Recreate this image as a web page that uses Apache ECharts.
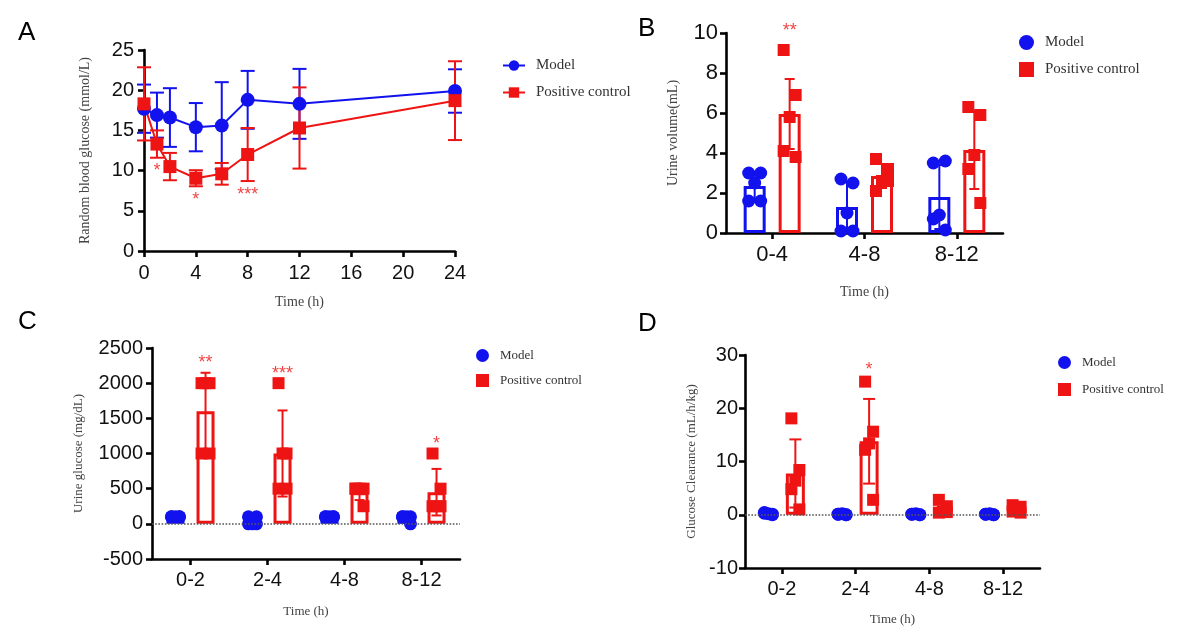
<!DOCTYPE html>
<html>
<head>
<meta charset="UTF-8">
<title>Glucose figure</title>
<style>
html, body { margin: 0; padding: 0; background: #fff; }
#main { width: 1183px; height: 641px; }
</style>
</head>
<body>
<div id="main"></div>
<script src="https://cdn.jsdelivr.net/npm/echarts@6.0.0/dist/echarts.min.js"></script>
<script>
// ---- A: random blood glucose over time (mean, SD)
var timesA = [0, 1, 2, 4, 6, 8, 12, 24];
var modelMeanA = [17.7, 16.9, 16.6, 15.4, 15.6, 18.8, 18.3, 19.9];
var modelSdA = [3.0, 2.8, 3.65, 3.0, 5.4, 3.6, 4.35, 2.7];
var posMeanA = [18.3, 13.3, 10.5, 9.05, 9.6, 12.0, 15.3, 18.7];
var posSdA = [4.55, 1.7, 1.7, 1.0, 1.35, 3.3, 5.05, 4.9];
var sigA = ['', '*', '', '*', '', '***', '', ''];

// ---- B: urine volume (mL)
var catsB = ['0-4', '4-8', '8-12'];
var modelPtsB = [[3.0, 3.0, 2.5, 1.6, 1.6], [2.7, 2.5, 1.0, 0.1, 0.1], [3.5, 3.6, 0.9, 0.7, 0.15]];
var modelMeanB = [2.35, 1.3, 1.8];
var modelSdB = [0.7, 1.25, 1.6];
var posPtsB = [[9.15, 6.9, 5.8, 4.1, 3.8], [3.7, 3.2, 2.6, 2.1, 2.6], [6.3, 5.9, 3.9, 3.2, 1.5]];
var posMeanB = [5.95, 2.85, 4.15];
var posSdB = [1.75, 0.6, 1.95];
var sigB = ['**', '', ''];

// ---- C: urine glucose (mg/dL)
var catsCD = ['0-2', '2-4', '4-8', '8-12'];
var modelPtsC = [[100, 100, 100, 100, 100], [100, 100, 0, 0, 0], [100, 100, 100, 100, 100], [100, 100, 100, 100, 0]];
var modelMeanC = [100, 40, 100, 80];
var modelSdC = [0, 55, 0, 45];
var posPtsC = [[2000, 2000, 2000, 1000, 1000], [2000, 1000, 1000, 500, 500], [500, 500, 500, 500, 250], [1000, 500, 250, 250, 250]];
var posMeanC = [1600, 1000, 450, 450];
var posSdC = [548, 612, 112, 331];
var sigC = ['**', '***', '', '*'];

// ---- D: glucose clearance (mL/h/kg)
var modelPtsD = [[0.3, 0.1, 0.2, 0.4, 0.0], [0.1, 0.0, 0.2, 0.1, 0.0], [0.1, 0.0, 0.2, 0.1, 0.0], [0.1, 0.0, 0.2, 0.1, 0.0]];
var modelMeanD = [0.2, 0.1, 0.1, 0.1];
var modelSdD = [0.15, 0.1, 0.1, 0.1];
var posPtsD = [[18.1, 8.4, 6.4, 4.8, 1.0], [25.0, 15.6, 13.4, 12.2, 2.8], [2.8, 1.6, 0.6, 0.4, 0.5], [1.8, 1.5, 1.0, 0.6, 0.4]];
var posMeanD = [7.75, 13.8, 1.2, 1.05];
var posSdD = [6.4, 7.95, 1.0, 0.6];
var sigD = ['', '*', '', ''];

var BLUE = '#1212ee', RED = '#ee1414';
var SANS = 'Liberation Sans', SERIF = 'Liberation Serif';

var chart = echarts.init(document.getElementById('main'));

// error bar drawn as a custom series: data = [x, mean, sd]
function errBars(ax, means, sds, xs, shift, capW, color, z) {
    var data = means.map(function (m, i) { return [xs ? xs[i] : i, m, sds[i]]; });
    return {
        type: 'custom', xAxisIndex: ax, yAxisIndex: ax, z: z, silent: true,
        encode: {x: 0, y: 1},
        data: data,
        renderItem: function (params, api) {
            var hi = api.coord([api.value(0), api.value(1) + api.value(2)]);
            var lo = api.coord([api.value(0), api.value(1) - api.value(2)]);
            var x = hi[0] + shift;
            var st = {stroke: color, lineWidth: 2, fill: null};
            return {
                type: 'group', children: [
                    {type: 'line', shape: {x1: x, y1: hi[1], x2: x, y2: lo[1]}, style: st},
                    {type: 'line', shape: {x1: x - capW / 2, y1: hi[1], x2: x + capW / 2, y2: hi[1]}, style: st},
                    {type: 'line', shape: {x1: x - capW / 2, y1: lo[1], x2: x + capW / 2, y2: lo[1]}, style: st}
                ]
            };
        }
    };
}

function bars(ax, name, means, color, w, gap, zeroLine) {
    var s = {
        type: 'bar', name: name, xAxisIndex: ax, yAxisIndex: ax, data: means,
        barWidth: w, barGap: gap, z: 2, silent: true,
        itemStyle: {color: 'rgba(255,255,255,0)', borderColor: color, borderWidth: 3}
    };
    if (zeroLine) {
        s.markLine = {
            silent: true, symbol: ['none', 'none'], label: {show: false},
            lineStyle: {type: 'dotted', color: '#555', width: 1.6},
            data: [{yAxis: 0}]
        };
    }
    return s;
}

var jitB = [-6, 6, 0, -6, 6];
var jitCD = [-4, 4, 0, -4, 4];

function points(ax, name, groups, shift, jit, symbol, size, color) {
    var data = [];
    groups.forEach(function (vals, i) {
        vals.forEach(function (v, k) {
            data.push({value: [i, v], symbolOffset: [shift + jit[k], 0]});
        });
    });
    return {
        type: 'scatter', name: name, xAxisIndex: ax, yAxisIndex: ax, data: data,
        symbol: symbol, symbolSize: size, itemStyle: {color: color, opacity: 1}, z: 4, silent: true
    };
}

// significance marks anchored on the red group
function sig(ax, labels, xs, anchors, dx, pos, dist) {
    return {
        type: 'scatter', xAxisIndex: ax, yAxisIndex: ax, symbolSize: 1, silent: true, z: 5,
        itemStyle: {color: 'rgba(0,0,0,0)'},
        data: labels.map(function (t, i) {
            return {value: [xs ? xs[i] : i, anchors[i]], label: {show: t !== '', formatter: t}};
        }),
        label: {position: pos, distance: dist, offset: [dx, 0], color: RED, fontSize: 18, fontFamily: SANS}
    };
}

function topOf(means, sds, pts) {
    return means.map(function (m, i) { return Math.max(m + sds[i], Math.max.apply(null, pts[i])); });
}

// bar layout per panel: width and gap (share of width) -> centre shift
var wB = 22, gB = 0.59, shB = (wB + wB * gB) / 2;
var wC = 18, gC = 0.67, shC = (wC + wC * gC) / 2;
var wD = 19, gD = 0.42, shD = (wD + wD * gD) / 2;

var axisLineSt = {show: true, onZero: false, lineStyle: {color: '#000', width: 2.6}};
var tickSt = {show: true, length: 6, lineStyle: {color: '#000', width: 2.6}};
var nameSt = function (size) { return {fontFamily: SERIF, fontSize: size, color: '#444'}; };
var labelSt = function (size, margin) {
    return {fontFamily: SANS, fontSize: size, color: '#111', margin: margin,
        formatter: function (v) { return String(v); }};
};

function catAxis(grid, cats, size, margin, gap, nsize) {
    return {
        type: 'category', gridIndex: grid, data: cats,
        axisLine: axisLineSt, axisTick: Object.assign({alignWithLabel: true}, tickSt),
        axisLabel: labelSt(size, margin), splitLine: {show: false},
        name: 'Time (h)', nameLocation: 'middle', nameGap: gap, nameTextStyle: nameSt(nsize)
    };
}

function valAxis(grid, min, max, step, name, size, margin, gap, nsize) {
    return {
        type: 'value', gridIndex: grid, min: min, max: max, interval: step,
        axisLine: axisLineSt, axisTick: tickSt, axisLabel: labelSt(size, margin),
        splitLine: {show: false},
        name: name, nameLocation: 'middle', nameGap: gap, nameTextStyle: nameSt(nsize)
    };
}

function legend(left, top, size, icoW, icoH, gap, icons) {
    var names = ['Model', 'Positive control'];
    return {
        left: left, top: top, orient: 'vertical', selectedMode: false,
        itemWidth: icoW, itemHeight: icoH, itemGap: gap,
        data: names.map(function (n, i) { return icons ? {name: n, icon: icons[i]} : {name: n}; }),
        textStyle: {fontFamily: SERIF, fontSize: size, color: '#333', padding: [0, 0, 0, 6]}
    };
}

var letter = function (t, left, top) {
    return {text: t, left: left, top: top, textStyle: {fontFamily: SANS, fontSize: 26, fontWeight: 'normal', color: '#000'}};
};

var option = {
    animation: false,
    backgroundColor: '#fff',
    title: [letter('A', 13, 15), letter('B', 633, 11), letter('C', 13, 304), letter('D', 633, 306)],
    legend: [
        legend(497, 53, 15, 22, 13, 12),
        legend(1014, 30, 15, 15, 15, 12, ['circle', 'rect']),
        legend(471, 344, 13, 13, 13, 12, ['circle', 'rect']),
        legend(1053, 351, 13, 13, 13, 14, ['circle', 'rect'])
    ],
    grid: [
        {left: 144, top: 50, width: 311, height: 201},
        {left: 726, top: 33, width: 277, height: 200},
        {left: 152, top: 348, width: 308, height: 211},
        {left: 745, top: 355, width: 295, height: 213}
    ],
    xAxis: [
        {
            type: 'value', gridIndex: 0, min: 0, max: 24, interval: 4,
            axisLine: axisLineSt, axisTick: tickSt, axisLabel: labelSt(20, 12), splitLine: {show: false},
            name: 'Time (h)', nameLocation: 'middle', nameGap: 44, nameTextStyle: nameSt(14)
        },
        catAxis(1, catsB, 22, 11, 52, 14),
        catAxis(2, catsCD, 20, 11, 46, 13),
        catAxis(3, catsCD, 20, 11, 45, 13)
    ],
    yAxis: [
        valAxis(0, 0, 25, 5, 'Random blood glucose (mmol/L)', 20, 10, 52, 14),
        valAxis(1, 0, 10, 2, 'Urine volume(mL)', 22, 8, 46, 14),
        valAxis(2, -500, 2500, 500, 'Urine glucose (mg/dL)', 20, 9, 67, 13),
        valAxis(3, -10, 30, 10, 'Glucose Clearance (mL/h/kg)', 20, 7, 47, 13)
    ],
    series: [
        // A
        {
            type: 'line', name: 'Model', xAxisIndex: 0, yAxisIndex: 0, z: 3,
            data: timesA.map(function (t, i) { return [t, modelMeanA[i]]; }),
            symbol: 'circle', symbolSize: 14, lineStyle: {color: BLUE, width: 2},
            itemStyle: {color: BLUE}, silent: true
        },
        {
            type: 'line', name: 'Positive control', xAxisIndex: 0, yAxisIndex: 0, z: 3,
            data: timesA.map(function (t, i) { return [t, posMeanA[i]]; }),
            symbol: 'rect', symbolSize: 13, lineStyle: {color: RED, width: 2},
            itemStyle: {color: RED}, silent: true
        },
        errBars(0, modelMeanA, modelSdA, timesA, 0, 14, BLUE, 2),
        errBars(0, posMeanA, posSdA, timesA, 0, 14, RED, 2),
        sig(0, sigA, timesA, posMeanA.map(function (m, i) { return m - posSdA[i]; }), 0, 'bottom', 4),

        // B
        bars(1, 'Model bars', modelMeanB, BLUE, wB, (gB * 100) + '%'),
        bars(1, 'Positive bars', posMeanB, RED, wB, (gB * 100) + '%'),
        errBars(1, modelMeanB, modelSdB, null, -shB, 10, BLUE, 3),
        errBars(1, posMeanB, posSdB, null, shB, 10, RED, 3),
        points(1, 'Model', modelPtsB, -shB, jitB, 'circle', 13, BLUE),
        points(1, 'Positive control', posPtsB, shB, jitB, 'rect', 12, RED),
        sig(1, sigB, null, topOf(posMeanB, posSdB, posPtsB), shB, 'top', 9),

        // C
        bars(2, 'Model bars', modelMeanC, BLUE, wC, (gC * 100) + '%', true),
        bars(2, 'Positive bars', posMeanC, RED, wC, (gC * 100) + '%'),
        errBars(2, modelMeanC, modelSdC, null, -shC, 10, BLUE, 3),
        errBars(2, posMeanC, posSdC, null, shC, 10, RED, 3),
        points(2, 'Model', modelPtsC, -shC, jitCD, 'circle', 13, BLUE),
        points(2, 'Positive control', posPtsC, shC, jitCD, 'rect', 12, RED),
        sig(2, sigC, null, topOf(posMeanC, posSdC, posPtsC), shC, 'top', 0),

        // D
        bars(3, 'Model bars', modelMeanD, BLUE, wD, (gD * 100) + '%', true),
        bars(3, 'Positive bars', posMeanD, RED, wD, (gD * 100) + '%'),
        errBars(3, modelMeanD, modelSdD, null, -shD, 10, BLUE, 3),
        errBars(3, posMeanD, posSdD, null, shD, 12, RED, 3),
        points(3, 'Model', modelPtsD, -shD, jitCD, 'circle', 13, BLUE),
        points(3, 'Positive control', posPtsD, shD, jitCD, 'rect', 12, RED),
        sig(3, sigD, null, topOf(posMeanD, posSdD, posPtsD), shD, 'top', 2)
    ]
};

chart.setOption(option);
</script>
</body>
</html>
